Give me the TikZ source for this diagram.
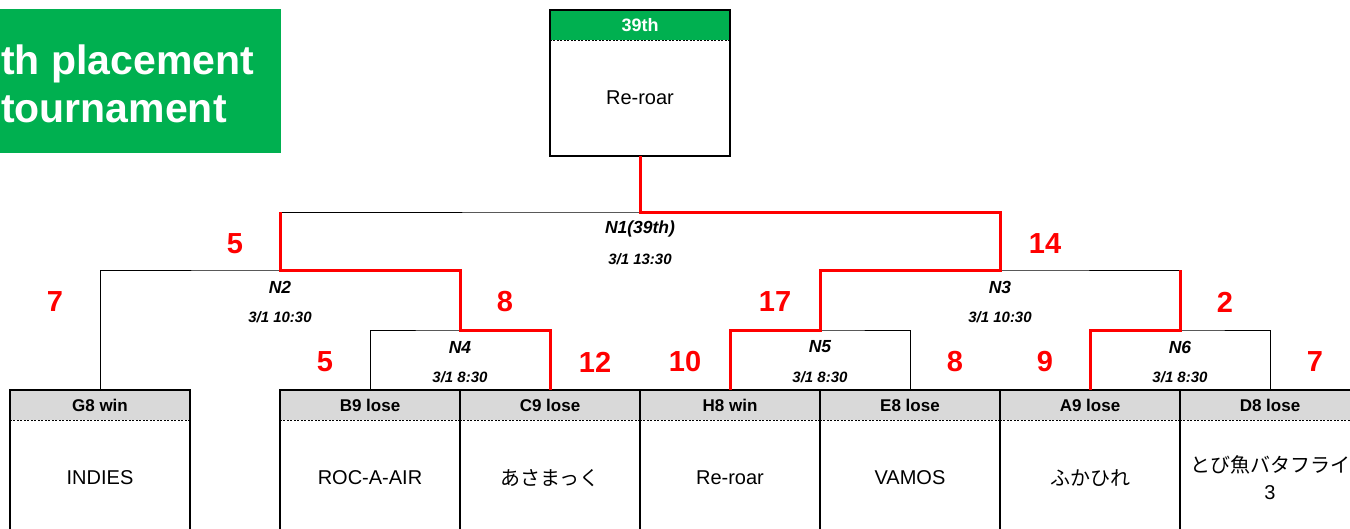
\documentclass[tikz,border=0pt]{standalone}
\usepackage{fontspec}
\setmainfont{Liberation Sans}
\newfontfamily\jp{Noto Sans CJK JP}
\usetikzlibrary{positioning}
\definecolor{placegreen}{HTML}{00B050}
\definecolor{headgray}{HTML}{D9D9D9}
\tikzstyle{teamhead} = [rectangle, anchor=north, minimum width=180pt, minimum height=30pt, inner sep=0pt, fill=headgray, font=\fontsize{17}{20}\selectfont\bfseries]
\tikzstyle{teambody} = [rectangle, minimum width=180pt, minimum height=115pt, inner sep=0pt, align=center, font=\fontsize{20}{27}\selectfont]
\tikzstyle{boxframe} = [line width=2pt]
\tikzstyle{headline} = [line width=1.5pt, dash pattern=on 2pt off 1.5pt]
\tikzstyle{bracket} = [line width=1pt]
\tikzstyle{win} = [line width=3pt, red]
\tikzstyle{score} = [text=red, font=\fontsize{29}{32}\selectfont\bfseries]
\tikzstyle{matchname} = [font=\fontsize{17.5}{20}\selectfont\bfseries\itshape]
\tikzstyle{matchtime} = [font=\fontsize{15}{17}\selectfont\bfseries\itshape]
\tikzstyle{titletext} = [text=white, inner sep=0pt, anchor=base west, font=\fontsize{41}{48}\selectfont\bfseries]

\begin{document}
\begin{tikzpicture}[x=1pt, y=-1pt]
        \useasboundingbox (0,0) rectangle (1350,528);
        \clip (0,0) rectangle (1350,528);

        % title
        \node (titlebox) [fill=placegreen, minimum width=281pt, minimum height=144pt, anchor=north west, inner sep=0pt] at (0,9) {};
        \node (title1) [titletext] at (1,74) {th placement};
        \node (title2) [titletext] at (1,122) {tournament};

        % final box
        \node (final-head) [teamhead, fill=placegreen, text=white, font=\fontsize{18}{20}\selectfont\bfseries] at (640,10) {39th};
        \node (final) [teambody, below=0pt of final-head] {Re-roar};
        \draw [headline] (final-head.south west) -- (final-head.south east);
        \draw [boxframe] (final-head.north west) rectangle (final.south east);

        % teams
        \foreach \t/\x/\head/\body in {g8/100/G8 win/INDIES, b9/370/B9 lose/ROC-A-AIR, c9/550/C9 lose/{\jp あさまっく}, h8/730/H8 win/Re-roar, e8/910/E8 lose/VAMOS, a9/1090/A9 lose/{\jp ふかひれ}, d8/1270/D8 lose/{\jp とび魚バタフライ\\3}} {
            \node (\t-head) [teamhead] at (\x,390) {\head};
            \node (\t) [teambody, below=0pt of \t-head] {\body};
            \coordinate (\t-top) at (\t-head.north);
            \draw [headline] (\t-head.south west) -- (\t-head.south east);
            \draw [boxframe] (\t-head.north west) rectangle (\t.south east);
        }

        % matches
        \coordinate (n1) at (640,212);
        \coordinate (n2) at (280,270);
        \coordinate (n3) at (1000,270);
        \coordinate (n4) at (460,330);
        \coordinate (n5) at (820,330);
        \coordinate (n6) at (1180,330);

        \foreach \m/\l/\r/\ls/\rs/\name/\when in {n4/b9-top/c9-top/5/12/N4/{3/1 8:30}, n2/g8-top/n4/7/8/N2/{3/1 10:30}, n1/n2/n3/5/14/N1(39th)/{3/1 13:30}, n5/h8-top/e8-top/10/8/N5/{3/1 8:30}, n3/n5/n6/17/2/N3/{3/1 10:30}, n6/a9-top/d8-top/9/7/N6/{3/1 8:30}} {
            \draw [bracket] (\l) |- (\m) -| (\r);
            \node (\m-name) [matchname, yshift=-17pt] at (\m) {\name};
            \node (\m-when) [matchtime, yshift=-47pt] at (\m) {\when};
            \node (\m-left) [score, xshift=-45pt, yshift=-32pt] at (\m -| \l) {\ls};
            \node (\m-right) [score, xshift=45pt, yshift=-32pt] at (\m -| \r) {\rs};
        }

        % winners
        \draw [win] (c9-top) |- (n4) |- (n2) -- (n2 |- n1);
        \draw [win] (h8-top) |- (n5) |- (n3) |- (n1) -- (final.south);
        \draw [win] (a9-top) |- (n6) -- (n6 |- n3);
    \end{tikzpicture}
\end{document}
